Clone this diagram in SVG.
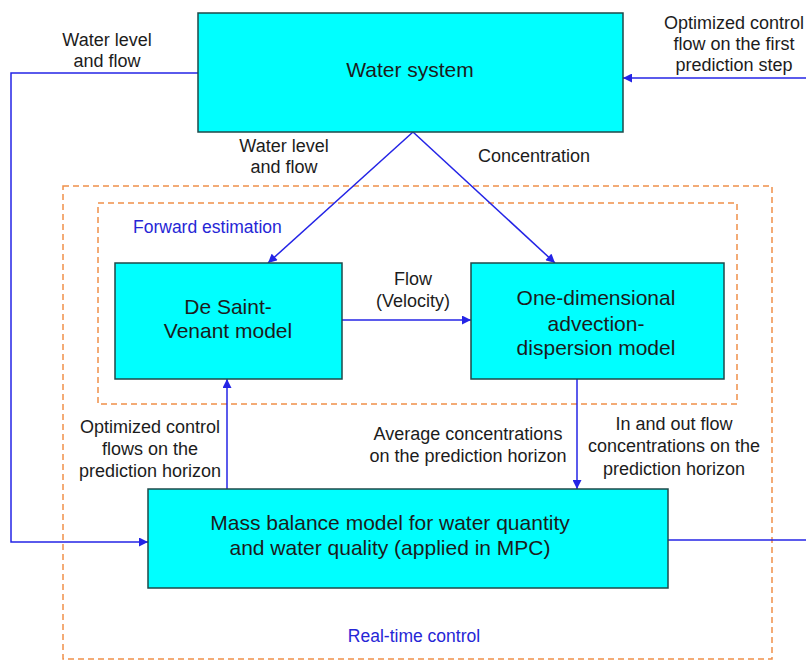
<svg xmlns="http://www.w3.org/2000/svg" width="806" height="660" viewBox="0 0 806 660">
<defs>
<marker id="ah" viewBox="0 0 10 10" refX="10" refY="5" markerWidth="10" markerHeight="9" markerUnits="userSpaceOnUse" orient="auto">
<path d="M0,0 L10,5 L0,10 z" fill="#2424e6"/>
</marker>
</defs>
<style>
.box{fill:#00ffff;stroke:#1e4a4a;stroke-width:1.5}
.dash{fill:none;stroke:#f0904a;stroke-width:1.5;stroke-dasharray:6,4}
.con{fill:none;stroke:#2424e6;stroke-width:1.5}
.t{font-family:"Liberation Sans",Arial,sans-serif;fill:#1c1c1c;text-anchor:middle}
.bl{font-size:21px}
.lb{font-size:18px}
.blue{font-family:"Liberation Sans",Arial,sans-serif;fill:#2626d6;font-size:17.5px}
</style>
<rect width="806" height="660" fill="#ffffff"/>
<g id="frames">
<rect class="dash" x="63" y="186" width="709" height="473"/>
<rect class="dash" x="98" y="203" width="639" height="201"/>
<text class="blue" x="133" y="233">Forward estimation</text>
<text class="blue" x="414" y="642" text-anchor="middle">Real-time control</text>
</g>
<g id="connectors">
<polyline class="con" points="198,73 11,73 11,542 148,542" marker-end="url(#ah)"/>
<line class="con" x1="806" y1="78" x2="623" y2="78" marker-end="url(#ah)"/>
<line class="con" x1="413" y1="132" x2="268" y2="263" marker-end="url(#ah)"/>
<line class="con" x1="413" y1="132" x2="555" y2="263" marker-end="url(#ah)"/>
<line class="con" x1="342" y1="320" x2="471" y2="320" marker-end="url(#ah)"/>
<line class="con" x1="227" y1="489" x2="227" y2="379" marker-end="url(#ah)"/>
<line class="con" x1="577" y1="379" x2="577" y2="489" marker-end="url(#ah)"/>
<line class="con" x1="668" y1="540" x2="806" y2="540"/>
<text class="t lb" x="107" y="46">Water level</text>
<text class="t lb" x="107" y="67">and flow</text>
<text class="t lb" x="734" y="29">Optimized control</text>
<text class="t lb" x="734" y="50">flow on the first</text>
<text class="t lb" x="734" y="71">prediction step</text>
<text class="t lb" x="284" y="152">Water level</text>
<text class="t lb" x="284" y="173">and flow</text>
<text class="t lb" x="534" y="162">Concentration</text>
<text class="t lb" x="413" y="285">Flow</text>
<text class="t lb" x="413" y="307">(Velocity)</text>
<text class="t lb" x="150" y="433">Optimized control</text>
<text class="t lb" x="150" y="455">flows on the</text>
<text class="t lb" x="150" y="477">prediction horizon</text>
<text class="t lb" x="468" y="440">Average concentrations</text>
<text class="t lb" x="468" y="462">on the prediction horizon</text>
<text class="t lb" x="674" y="430">In and out flow</text>
<text class="t lb" x="674" y="452">concentrations on the</text>
<text class="t lb" x="674" y="475">prediction horizon</text>
</g>
<g id="water-system">
<rect class="box" x="198" y="13" width="425" height="119"/>
<text class="t bl" x="410" y="77">Water system</text>
</g>
<g id="de-saint-venant">
<rect class="box" x="115" y="263" width="227" height="116"/>
<text class="t bl" x="228" y="314">De Saint-</text>
<text class="t bl" x="228" y="338">Venant model</text>
</g>
<g id="advection-dispersion">
<rect class="box" x="471" y="263" width="253" height="116"/>
<text class="t bl" x="596" y="305">One-dimensional</text>
<text class="t bl" x="596" y="331">advection-</text>
<text class="t bl" x="596" y="355">dispersion model</text>
</g>
<g id="mass-balance">
<rect class="box" x="148" y="489" width="520" height="99"/>
<text class="t bl" x="390" y="530">Mass balance model for water quantity</text>
<text class="t bl" x="390" y="555">and water quality (applied in MPC)</text>
</g>
</svg>
